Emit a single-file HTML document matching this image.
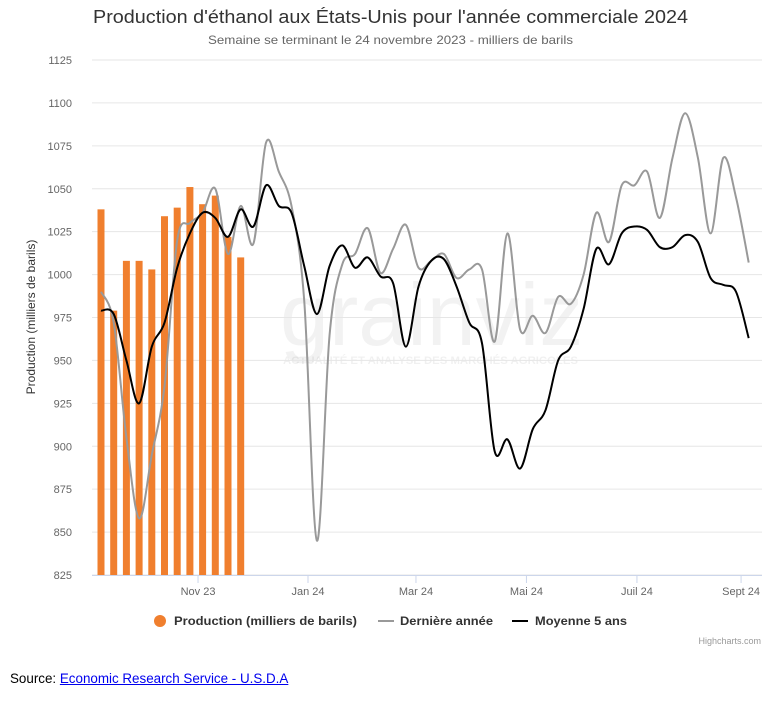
<!DOCTYPE html>
<html><head><meta charset="utf-8"><style>
body{margin:0;background:#fff;width:775px;height:708px;overflow:hidden;font-family:"Liberation Sans",sans-serif}
#src{position:absolute;left:10px;top:671px;font-size:13.4px;color:#000}
#src a{color:#00e;text-decoration:underline}
</style></head><body>
<svg id="chart" width="775" height="660" style="position:absolute;left:0;top:0" font-family="Liberation Sans, sans-serif">
<text x="93" y="23" font-size="18" fill="#333" textLength="595" lengthAdjust="spacingAndGlyphs">Production d'éthanol aux États-Unis pour l'année commerciale 2024</text>
<text x="208" y="44" font-size="12" fill="#666" textLength="365" lengthAdjust="spacingAndGlyphs">Semaine se terminant le 24 novembre 2023 - milliers de barils</text>
<text x="280" y="345" font-size="88" fill="#000" fill-opacity="0.05">grainviz</text>
<text x="283" y="364" font-size="11" font-weight="bold" fill="#000" fill-opacity="0.06" textLength="295" lengthAdjust="spacingAndGlyphs">ACTUALITÉ ET ANALYSE DES MARCHÉS AGRICOLES</text>
<g id="grid"></g><g id="bars"></g><g id="lines"></g><g id="axes"></g>
<text transform="translate(35,317) rotate(-90)" text-anchor="middle" font-size="12" fill="#333">Production (milliers de barils)</text>
<g font-size="12" font-weight="bold" fill="#333">
<g><circle cx="160" cy="621" r="6" fill="#f07f2e"/><text x="174" y="625" textLength="183" lengthAdjust="spacingAndGlyphs">Production (milliers de barils)</text></g>
<g><line x1="378" y1="621" x2="394" y2="621" stroke="#999" stroke-width="2"/><text x="400" y="625" textLength="93" lengthAdjust="spacingAndGlyphs">Dernière année</text></g>
<g><line x1="512" y1="621" x2="528" y2="621" stroke="#000" stroke-width="2"/><text x="535" y="625" textLength="92" lengthAdjust="spacingAndGlyphs">Moyenne 5 ans</text></g>
</g>
<text x="761" y="644" text-anchor="end" font-size="9" fill="#999">Highcharts.com</text>
</svg>
<div id="src">Source: <a>Economic Research Service - U.S.D.A</a></div>
<script>
const production=[1038,979,1008,1008,1003,1034,1039,1051,1041,1046,1022,1010];
const lastYear=[990,972,905,858,895,935,1020,1030,1036,1050,1012,1040,1018,1077,1060,1040,985,845,965,1006,1012,1027,1001,1015,1029,1004,1008,1012,998,1003,1003,961,1024,968,976,966,987,983,1000,1036,1019,1052,1052,1060,1033,1068,1094,1068,1024,1068,1045,1007];
const avg5=[979,977,950,925,958,972,1004,1024,1036,1033,1022,1038,1028,1052,1040,1036,1005,977,1005,1017,1004,1010,999,995,958,993,1008,1009,993,972,960,897,904,887,910,921,950,958,980,1015,1006,1024,1028,1026,1016,1016,1023,1019,998,994,990,963];
const yTicks=[825,850,875,900,925,950,975,1000,1025,1050,1075,1100,1125];
const xTickLabels=["Nov 23","Jan 24","Mar 24","Mai 24","Juil 24","Sept 24"];
const xTickWeeks=[7.64,16.3,24.8,33.5,42.2,50.4];
const NS="http://www.w3.org/2000/svg";
const L=92,R=762,T=60,B=575;
const y=v=>B-(v-825)/300*(B-T);
const x=i=>101+i*12.7;
function mk(t,a,p){const e=document.createElementNS(NS,t);for(const k in a)e.setAttribute(k,a[k]);p.appendChild(e);return e;}
const grid=document.getElementById('grid'),axes=document.getElementById('axes');
yTicks.forEach(v=>{
 const l=mk('line',{x1:L,x2:R,y1:y(v),y2:y(v),stroke:'#e6e6e6'},grid);
 
 
 const t=mk('text',{x:72,y:y(v)+4,'text-anchor':'end','font-size':11,fill:'#666'},axes);
 t.textContent=v;
 
 
});
const ax=mk('line',{x1:L,x2:R,y1:B+0.5,y2:B+0.5,stroke:'#ccd6eb'},axes);


xTickLabels.forEach((s,k)=>{
 const px=x(xTickWeeks[k]);
 const tk=mk('line',{x1:px,x2:px,y1:B,y2:B+8,stroke:'#ccd6eb'},axes);
 
 
 const t=mk('text',{x:px,y:B+20,'text-anchor':'middle','font-size':11,fill:'#666'},axes);
 t.textContent=s;
 
 
});
const bars=document.getElementById('bars');
production.forEach((v,i)=>{
 const r=mk('rect',{x:x(i)-3.5,y:y(v),width:7,height:B-y(v),fill:'#f07f2e'},bars);
 
 
});
function spline(arr){
 const p=arr.map((v,i)=>[x(i),y(v)]);let d=`M${p[0][0]},${p[0][1]}`;
 for(let i=0;i<p.length-1;i++){const p0=p[Math.max(0,i-1)],p1=p[i],p2=p[i+1],p3=p[Math.min(p.length-1,i+2)];
  const c1=[p1[0]+(p2[0]-p0[0])/6,p1[1]+(p2[1]-p0[1])/6],c2=[p2[0]-(p3[0]-p1[0])/6,p2[1]-(p3[1]-p1[1])/6];
  d+=`C${c1[0]},${c1[1]} ${c2[0]},${c2[1]} ${p2[0]},${p2[1]}`;}
 return d;}
const lines=document.getElementById('lines');
const g=mk('path',{d:spline(lastYear),fill:'none',stroke:'#999','stroke-width':2},lines);


const b=mk('path',{d:spline(avg5),fill:'none',stroke:'#000','stroke-width':2},lines);


</script>
</body></html>
